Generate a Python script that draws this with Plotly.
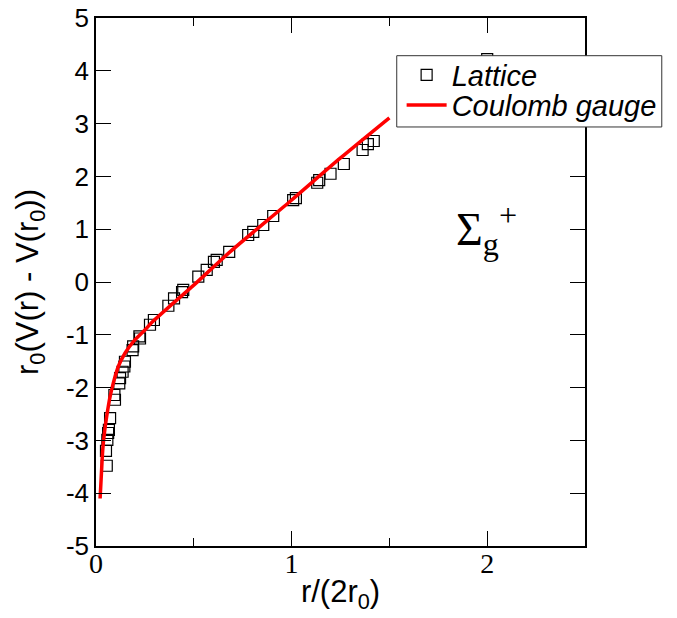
import plotly.graph_objects as go

# Lattice data: r/(2 r0) and r0 (V(r) - V(r0))
lattice_x = [0.051, 0.055, 0.058, 0.062, 0.066, 0.072, 0.094, 0.097, 0.119, 0.123,
             0.136, 0.145, 0.148, 0.187, 0.190, 0.222, 0.225, 0.276, 0.296, 0.370,
             0.399, 0.440, 0.446, 0.523, 0.566, 0.603, 0.617, 0.681, 0.778, 0.804,
             0.855, 0.906, 1.008, 1.022, 1.131, 1.141, 1.199, 1.267, 1.363, 1.390,
             1.420, 2.000]
lattice_y = [-3.20, -3.48, -2.99, -2.86, -2.80, -2.58, -2.14, -2.23, -1.92, -1.82,
             -1.70, -1.60, -1.51, -1.29, -1.22, -1.03, -1.07, -0.81, -0.72, -0.45,
             -0.31, -0.19, -0.15, 0.10, 0.23, 0.38, 0.42, 0.57, 0.89, 0.95,
             1.08, 1.25, 1.55, 1.59, 1.88, 1.93, 2.05, 2.235, 2.50, 2.61,
             2.67, 4.22]

# Coulomb gauge curve
coulomb_x = [0.021, 0.028, 0.035, 0.045, 0.060, 0.072, 0.088, 0.114, 0.148, 0.191,
             0.250, 0.290, 0.395, 0.500, 0.685, 0.990, 1.247, 1.500]
coulomb_y = [-4.10, -3.60, -3.15, -2.80, -2.42, -2.17, -1.92, -1.60, -1.35, -1.13,
             -0.91, -0.75, -0.40, -0.06, 0.57, 1.52, 2.34, 3.11]

x_ticks = [0, 1, 2]
y_ticks = [-5, -4, -3, -2, -1, 0, 1, 2, 3, 4, 5]

SANS = "Liberation Sans, Arial, sans-serif"
SERIF = "Liberation Serif, Times New Roman, serif"

fig = go.Figure()
fig.add_trace(go.Scatter(
    x=lattice_x, y=lattice_y, mode="markers", name="Lattice", legend="legend",
    marker=dict(symbol="square-open", size=11, color="black",
                line=dict(color="black", width=1.2)),
))
fig.add_trace(go.Scatter(
    x=coulomb_x, y=coulomb_y, mode="lines", name="Coulomb gauge", legend="legend2",
    line=dict(color="#ff0000", width=3.5, shape="spline", smoothing=0.8),
))

fig.add_annotation(
    x=1.83, y=1.0, xref="x", yref="y", xanchor="left", yanchor="middle",
    text="Σ<sub>g</sub><sup>+</sup>", showarrow=False,
    font=dict(family=SERIF, size=46, color="black"),
)

# legend frame (white box with thin border), drawn over the data
fig.add_shape(
    type="rect", xref="paper", yref="paper",
    x0=0.615, x1=1.157, y0=0.7936, y1=0.9286,
    line=dict(color="#333333", width=1), fillcolor="white", layer="above",
)

axis_common = dict(
    showline=True, linecolor="black", linewidth=1.5, mirror="allticks",
    ticks="inside", ticklen=15, tickwidth=1.2, tickcolor="black",
    showgrid=False, zeroline=False, automargin=False,
)

fig.update_xaxes(
    range=[0, 2.5], tickvals=x_ticks, ticktext=[str(v) for v in x_ticks],
    tickfont=dict(family=SERIF, size=28, color="black"),
    ticklabelstandoff=-8,
    minor=dict(tickvals=[0.5, 1.5], ticks="inside", ticklen=8,
               tickwidth=1.2, tickcolor="black", showgrid=False),
    title=dict(text="r/(2r<sub>0</sub>)",
               font=dict(family=SANS, size=31, color="black"), standoff=2),
    **axis_common,
)
fig.update_yaxes(
    range=[-5, 5], tickvals=y_ticks, ticktext=[str(v) for v in y_ticks],
    tickfont=dict(family=SANS, size=26, color="black"),
    title=dict(text="r<sub>0</sub>(V(r) - V(r<sub>0</sub>))",
               font=dict(family=SANS, size=31, color="black"), standoff=18),
    **axis_common,
)

legend_font = dict(family=SANS, size=29, color="black", style="italic")
fig.update_layout(
    width=677, height=618,
    margin=dict(l=96, r=92, t=18, b=72),
    plot_bgcolor="white", paper_bgcolor="white",
    showlegend=True,
    legend=dict(x=0.625, y=0.892, xanchor="left", yanchor="middle",
                bgcolor="rgba(0,0,0,0)", borderwidth=0, itemwidth=40,
                font=legend_font),
    legend2=dict(x=0.625, y=0.835, xanchor="left", yanchor="middle",
                 bgcolor="rgba(0,0,0,0)", borderwidth=0, itemwidth=40,
                 font=legend_font),
)

fig.write_html("out.html")
